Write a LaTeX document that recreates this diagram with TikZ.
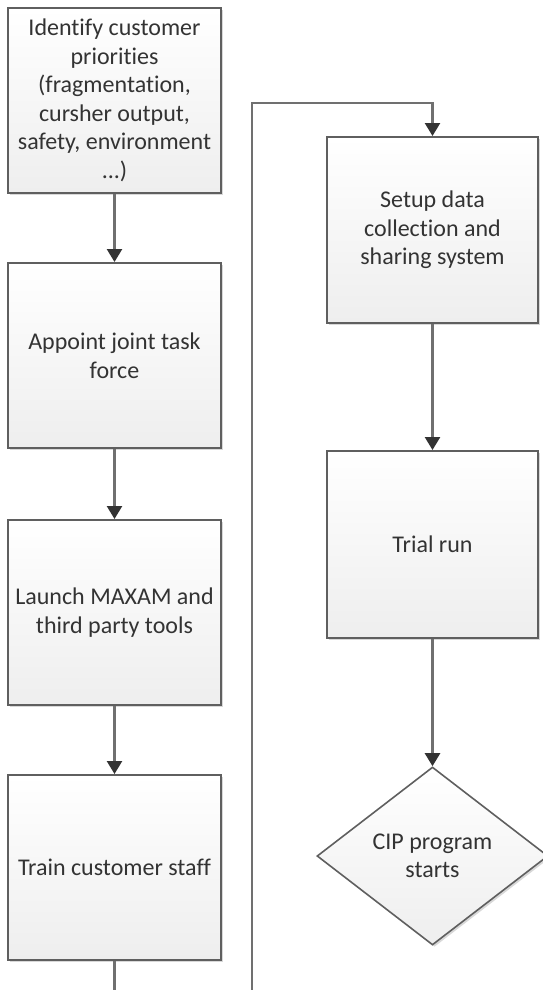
\documentclass[tikz,border=0pt]{standalone}
\usepackage{fontspec}
\setmainfont{Carlito}[Ligatures=NoCommon]
\usetikzlibrary{arrows.meta,shapes.geometric,shadows}
\definecolor{boxline}{HTML}{5F5F5F}
\definecolor{conline}{HTML}{707070}
\definecolor{tip}{HTML}{333333}
\definecolor{txt}{HTML}{333333}
\definecolor{fillbot}{HTML}{EEEEEE}
\tikzset{
  flowbox/.style={draw=boxline, line width=2pt, rectangle, top color=white, bottom color=fillbot,
    minimum width=213pt, minimum height=185pt, align=center, text=txt, inner sep=1pt,
    font=\fontsize{24}{28.5}\selectfont,
    drop shadow={shadow xshift=2pt, shadow yshift=-2pt, fill=black!30, opacity=0.5}},
  flowdia/.style={draw=boxline, line width=1.6pt, diamond, top color=white, bottom color=fillbot,
    minimum width=231pt, minimum height=178pt, inner sep=0pt, align=center, text=txt,
    font=\fontsize{24}{28.5}\selectfont,
    drop shadow={shadow xshift=2pt, shadow yshift=-2pt, fill=black!30, opacity=0.5}},
  conn/.style={draw=conline, line width=2.5pt},
  arr/.style={conn, -{Triangle[width=15pt,length=13pt,fill=tip,color=tip]}},
}
\begin{document}
\begin{tikzpicture}[x=1pt,y=-1pt]
\useasboundingbox (0,0) rectangle (542,990);
\node[flowbox] (b1) at (114.5,100.5) {Identify customer\\priorities\\(fragmentation,\\cursher output,\\safety, environment\\...)};
\node[flowbox] (b2) at (114.5,355.5) {Appoint joint task\\force};
\node[flowbox] (b3) at (114.5,612.5) {Launch MAXAM and\\third party tools};
\node[flowbox] (b4) at (114.5,867.5) {Train customer staff};
\node[flowbox, minimum width=211pt, minimum height=186pt] (r1) at (432.5,230) {Setup data\\collection and\\sharing system};
\node[flowbox, minimum width=211pt, minimum height=187pt] (r2) at (432.5,544.5) {Trial run};
\node[flowdia] (d1) at (432.5,856) {CIP program\\starts};
\coordinate (e1) at (114.5,990);
\coordinate (e2) at (252,990);
\coordinate (top) at (252,103);
\draw[arr] (b1.south) -- (b2.north);
\draw[arr] (b2.south) -- (b3.north);
\draw[arr] (b3.south) -- (b4.north);
\draw[conn] (b4.south) -- (e1);
\draw[arr] (e2) -- (top) -| (r1.north);
\draw[arr] (r1.south) -- (r2.north);
\draw[arr] (r2.south) -- (d1.north);
\end{tikzpicture}
\end{document}
